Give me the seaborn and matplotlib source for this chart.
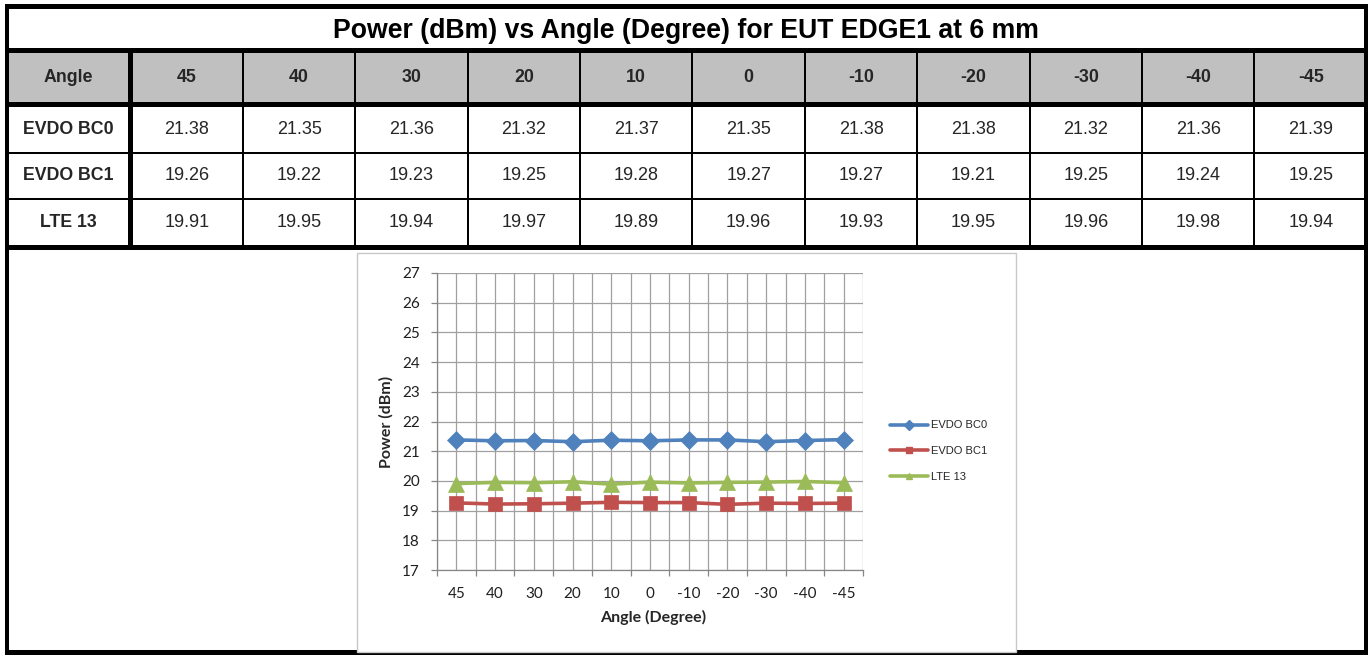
import numpy as np
import pandas as pd
import matplotlib
matplotlib.use("Agg")
import matplotlib.pyplot as plt
import seaborn as sns
from matplotlib.patches import Rectangle
from matplotlib.lines import Line2D

# ---------------- data ----------------
title = "Power (dBm) vs Angle (Degree) for EUT EDGE1 at 6 mm"
header_label = "Angle"
angles = ["45", "40", "30", "20", "10", "0", "-10", "-20", "-30", "-40", "-45"]
bands = ["EVDO BC0", "EVDO BC1", "LTE 13"]
evdo_bc0 = [21.38, 21.35, 21.36, 21.32, 21.37, 21.35, 21.38, 21.38, 21.32, 21.36, 21.39]
evdo_bc1 = [19.26, 19.22, 19.23, 19.25, 19.28, 19.27, 19.27, 19.21, 19.25, 19.24, 19.25]
lte_13 = [19.91, 19.95, 19.94, 19.97, 19.89, 19.96, 19.93, 19.95, 19.96, 19.98, 19.94]
y_ticks = list(range(17, 28))
x_label = "Angle (Degree)"
y_label = "Power (dBm)"

colors = ["#4F81BD", "#C0504D", "#9BBB59"]
markers = ["D", "s", "^"]
msizes = [9.5, 10.5, 11]

series = [evdo_bc0, evdo_bc1, lte_13]

sns.set_theme(style="ticks")
plt.rcParams["font.family"] = ["Liberation Sans", "DejaVu Sans"]

W, H = 1370, 655
fig = plt.figure(figsize=(W / 100, H / 100), dpi=100)
fig.patch.set_facecolor("white")

# overlay in pixel coordinates for the table
ov = fig.add_axes([0, 0, 1, 1])
ov.set_xlim(0, W)
ov.set_ylim(H, 0)
ov.axis("off")


def bar(x0, y0, x1, y1, c="black"):
    ov.add_patch(Rectangle((x0, y0), x1 - x0, y1 - y0, facecolor=c,
                           edgecolor="none", lw=0))


# header fill
bar(9, 53, 1364, 102, "#c0c0c0")

# column boundaries
col0_right = 130.5
col_w = 112.4
bounds = [col0_right + col_w * k for k in range(len(angles) + 1)]

# thin vertical lines
for b in bounds[1:-1]:
    bar(b - 1, 53, b + 1, 245)
# thick vertical after first column
bar(128, 53, 133, 245)

# horizontal lines
bar(5, 4, 1368.5, 9)      # top
bar(5, 48, 1368.5, 53)    # under title
bar(5, 102, 1368.5, 107)  # under header
bar(9, 152, 1364, 154)    # thin
bar(9, 198, 1364, 200)    # thin
bar(5, 245, 1368.5, 250)  # under table
bar(5, 650, 1368.5, 655)  # bottom
# outer verticals
bar(5, 4, 9.5, 655)
bar(1364, 4, 1368.5, 655)

# texts
ov.text(686, 31, title, ha="center", va="center", fontsize=19.2,
        fontweight="bold", color="black")
row_y = [129.5, 176, 222.5]
col0_c = (9.5 + 128) / 2
ov.text(col0_c, 78, header_label, ha="center", va="center", fontsize=12.8,
        fontweight="bold")
for k, a in enumerate(angles):
    cx = (bounds[k] + bounds[k + 1]) / 2
    ov.text(cx, 78, a, ha="center", va="center", fontsize=12.8, fontweight="bold")
for r, (name, vals) in enumerate(zip(bands, series)):
    ov.text(col0_c, row_y[r], name, ha="center", va="center", fontsize=12.8,
            fontweight="bold")
    for k, v in enumerate(vals):
        cx = (bounds[k] + bounds[k + 1]) / 2
        ov.text(cx, row_y[r], f"{v:.2f}", ha="center", va="center", fontsize=13)

# chart box
ov.add_patch(Rectangle((357, 253), 1016 - 357, 652 - 253, facecolor="white",
                       edgecolor="#c8c8c8", lw=1))

# ---------------- chart ----------------
px0, px1, py0, py1 = 437, 863, 273, 570
ax = fig.add_axes([px0 / W, (H - py1) / H, (px1 - px0) / W, (py1 - py0) / H])
ax.set_facecolor("none")

df = pd.DataFrame({
    "pos": np.tile(np.arange(len(angles)), len(bands)),
    "Angle": angles * len(bands),
    "Power": np.concatenate(series),
    "Band": np.repeat(bands, len(angles)),
})

for band, c, m, ms in zip(bands, colors, markers, msizes):
    sub = df[df["Band"] == band]
    sns.lineplot(data=sub, x="pos", y="Power", color=c, marker=m,
                 markersize=ms, markeredgecolor=c, markeredgewidth=0.5,
                 linewidth=2.6, ax=ax, legend=False, sort=False,
                 estimator=None, zorder=5)

ax.set_xlim(-0.5, len(angles) - 0.5)
ax.set_ylim(y_ticks[0], y_ticks[-1])
ax.set_xticks(np.arange(len(angles)))
ax.set_xticklabels(angles)
ax.set_xticks(np.arange(-0.5, len(angles), 1), minor=True)
ax.set_yticks(y_ticks)
ax.set_yticklabels([str(t) for t in y_ticks])

gc = "#a0a0a0"
ax.grid(True, which="both", axis="x", color=gc, lw=0.9)
ax.grid(True, which="major", axis="y", color=gc, lw=0.9)
ax.set_axisbelow(True)

for s in ["top", "right"]:
    ax.spines[s].set_visible(False)
for s in ["left", "bottom"]:
    ax.spines[s].set_color("#868686")
    ax.spines[s].set_linewidth(0.9)

ax.tick_params(axis="x", which="major", length=0, pad=12, labelsize=11)
ax.tick_params(axis="x", which="minor", length=4.5, width=0.9, color="#868686",
               direction="out", bottom=True)
ax.tick_params(axis="y", which="major", length=4.5, width=0.9, color="#868686",
               direction="out", pad=8, labelsize=11, left=True)
for lab in ax.get_xticklabels() + ax.get_yticklabels():
    lab.set_family(["Lato", "DejaVu Sans"])
    lab.set_color("#202020")

ax.set_xlabel(x_label, fontsize=11.5, fontweight="bold", family=["Lato", "DejaVu Sans"])
ax.set_ylabel(y_label, fontsize=11.5, fontweight="bold", family=["Lato", "DejaVu Sans"])
ax.xaxis.set_label_coords((653 - px0) / (px1 - px0), (py1 - 610) / (py1 - py0))
ax.yaxis.set_label_coords((394 - px0) / (px1 - px0), 0.5)

handles = [Line2D([], [], color=c, marker=m, lw=2.6, markersize=5,
                  markeredgecolor=c) for c, m in zip(colors, markers)]
fig.legend(handles, bands, loc="center left",
           bbox_to_anchor=(890 / W, (H - 451) / H),
           bbox_transform=fig.transFigure, frameon=False,
           handlelength=3.4, handletextpad=0.3, labelspacing=1.4,
           borderpad=0, borderaxespad=0, prop={"size": 8})

fig.savefig("out.png", dpi=100)
